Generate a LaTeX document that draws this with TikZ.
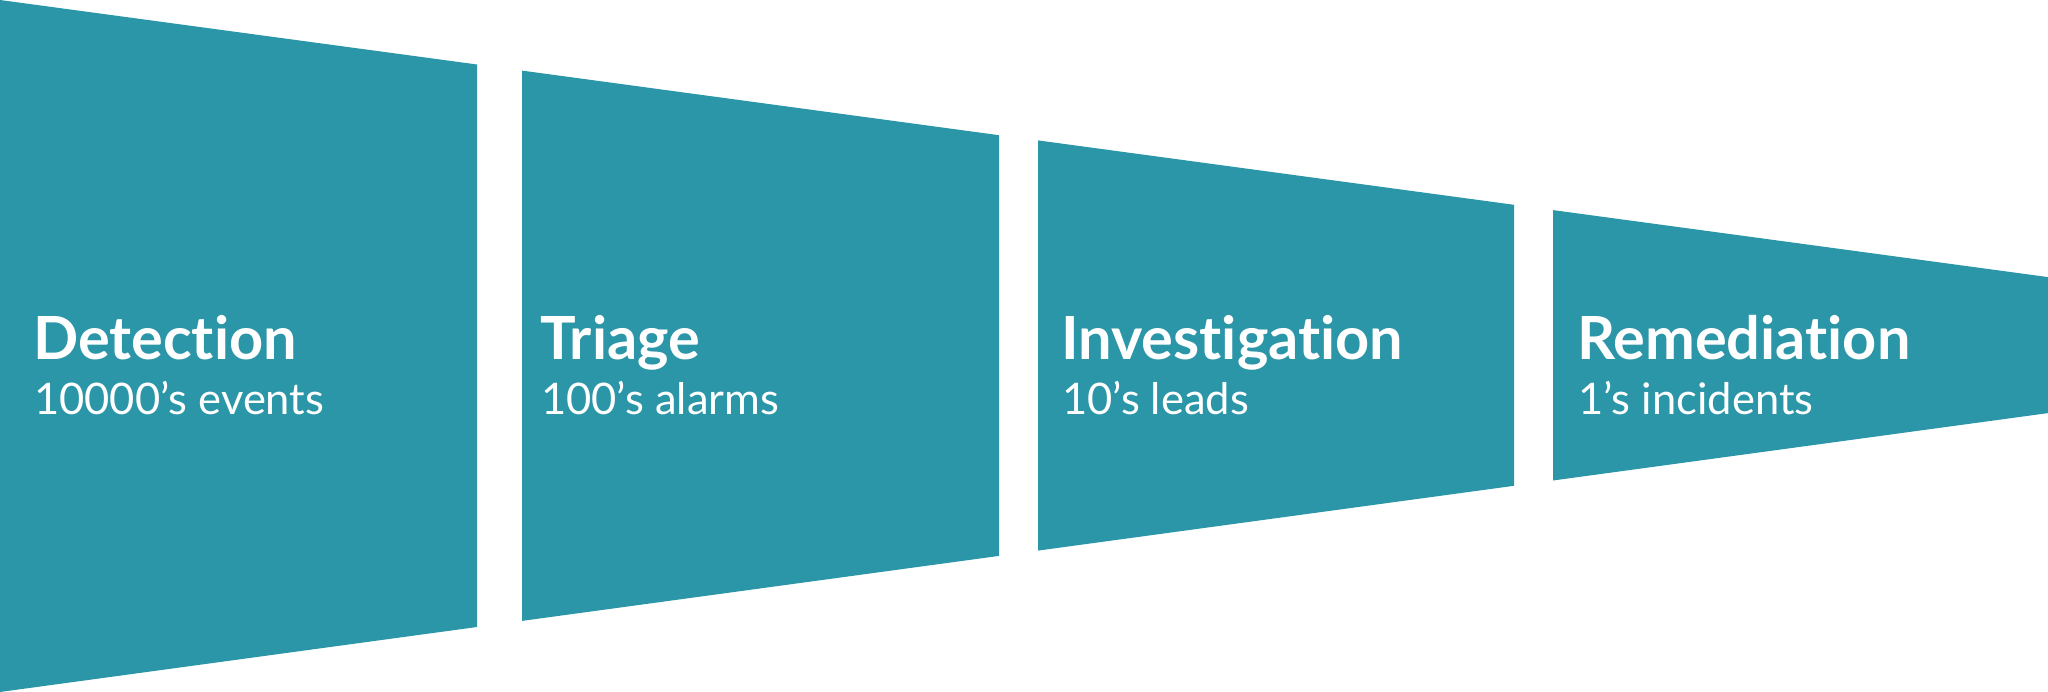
\documentclass[tikz,border=0pt]{standalone}
\usepackage{fontspec}
\setmainfont{Lato}[Ligatures=NoCommon]
\usepackage{tikz}
\usepackage{xcolor}
\definecolor{funnelteal}{HTML}{2B96A8}

\begin{document}
\begin{tikzpicture}[x=1pt,y=-1pt,
  stage/.style={fill=funnelteal, draw=none},
  title/.style={anchor=base west, inner sep=0pt, text=white, font=\fontsize{59.5}{70}\selectfont\bfseries},
  count/.style={anchor=base west, inner sep=0pt, text=white, font=\fontsize{43.5}{52}\selectfont}]
\useasboundingbox (0,0) rectangle (2048,692);
% funnel stages
\fill [stage] (0,0) -- (477,64.5) -- (477,627) -- (0,692) -- cycle;
\fill [stage] (522,70.6) -- (999,135.2) -- (999,555.9) -- (522,620.9) -- cycle;
\fill [stage] (1038,140.4) -- (1514,204.8) -- (1514,485.8) -- (1038,550.6) -- cycle;
\fill [stage] (1553,210.1) -- (2048,277.1) -- (2048,413.1) -- (1553,480.5) -- cycle;
% labels
\node [title] (detection) at (33,360) {Detection};
\node [count] (events) at (34,414) {10000’s events};
\node [title] (triage) at (540,360) {Triage};
\node [count] (alarms) at (541,414) {100’s alarms};
\node [title] (investigation) at (1061,360) {Investigation};
\node [count] (leads) at (1062,414) {10’s leads};
\node [title] (remediation) at (1577,360) {Remediation};
\node [count] (incidents) at (1578,414) {1’s incidents};
\end{tikzpicture}
\end{document}
